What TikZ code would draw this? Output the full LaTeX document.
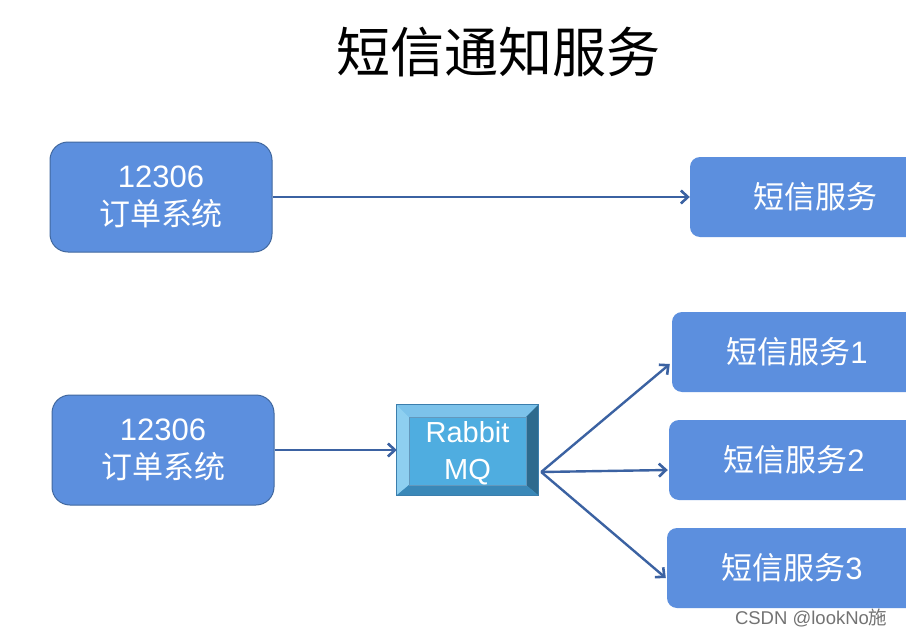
\documentclass[tikz,border=0pt]{standalone}
\usepackage{fontspec}
\setmainfont{Liberation Sans}
\newfontfamily\cjk{Noto Sans CJK SC}
\usetikzlibrary{arrows.meta,calc}
\definecolor{boxfill}{HTML}{5C8FDE}
\definecolor{boxline}{HTML}{41689F}
\definecolor{arrowc}{HTML}{3B62A2}
\definecolor{mqface}{HTML}{4FADE0}
\definecolor{mqtop}{HTML}{7CC2EA}
\definecolor{mqleft}{HTML}{8ECFF0}
\definecolor{mqright}{HTML}{2D6A8E}
\definecolor{mqbottom}{HTML}{3A88B8}
\definecolor{mqline}{HTML}{3B7EAD}
\tikzset{
  srcbox/.style={draw=boxline, line width=1pt, fill=boxfill, rounded corners=18pt,
    minimum width=222pt, minimum height=110pt, inner sep=0pt, text=white, align=center,
    font=\fontsize{31}{38}\selectfont},
  svcbox/.style={fill=boxfill, rounded corners=10pt, minimum width=250pt, minimum height=80pt,
    inner sep=0pt, text=white, font=\fontsize{31}{38}\selectfont},
  link/.style={draw=arrowc, line width=2.4pt, -{Straight Barb[length=7pt,width=13pt,line width=2.6pt]}},
}
\begin{document}
\begin{tikzpicture}[x=1pt,y=-1pt]
\useasboundingbox (0,0) rectangle (906,637);
\clip (0,0) rectangle (906,637);
\fill[white] (0,0) rectangle (906,637);
% title
\node (title) at (498,52) {\cjk\fontsize{54}{60}\selectfont 短信通知服务};
% top row
\node[srcbox] (a1) at (161,197) {12306\\{\cjk 订单系统}};
\node[svcbox] (b1) at (815,197) {\cjk 短信服务};
\draw[link] (a1.east) -- (b1.west);
% bottom row
\node[srcbox] (a2) at (163,450) {12306\\{\cjk 订单系统}};
\node[minimum width=141pt, minimum height=90pt, inner sep=0pt] (mq) at (467.5,450) {};
% bevel
\fill[mqface] (mq.north west) rectangle (mq.south east);
\fill[mqtop] (mq.north west) -- (mq.north east) -- ($(mq.north east)+(-12,12)$) -- ($(mq.north west)+(12,12)$) -- cycle;
\fill[mqleft] (mq.north west) -- ($(mq.north west)+(12,12)$) -- ($(mq.south west)+(12,-10)$) -- (mq.south west) -- cycle;
\fill[mqright] (mq.north east) -- ($(mq.north east)+(-12,12)$) -- ($(mq.south east)+(-12,-10)$) -- (mq.south east) -- cycle;
\fill[mqbottom] (mq.south west) -- ($(mq.south west)+(12,-10)$) -- ($(mq.south east)+(-12,-10)$) -- (mq.south east) -- cycle;
\draw[mqline, line width=0.8pt] (mq.north west) rectangle (mq.south east);
\draw[mqline!80!white, line width=0.5pt] ($(mq.north west)+(12,12)$) rectangle ($(mq.south east)+(-12,-10)$);
\node[text=white, align=center, font=\fontsize{29}{37}\selectfont] (mqtext) at ($(mq.center)+(0,3)$) {Rabbit\\MQ};
\draw[link] (a2.east) -- (mq.west);
% services
\node[svcbox] (s1) at (797,352) {{\cjk 短信服务}1};
\node[svcbox] (s2) at (794,460) {{\cjk 短信服务}2};
\node[svcbox] (s3) at (792,568) {{\cjk 短信服务}3};
\coordinate (mqout) at ($(mq.east)+(3,22)$);
\draw[link] (mqout) -- ($(s1.west)+(-2,12)$);
\draw[link] (mqout) -- ($(s2.west)+(-1,10)$);
\draw[link] (mqout) -- ($(s3.west)+(-1,10)$);
% watermark
\node[text=black!55, anchor=east, font=\fontsize{18.5}{22}\selectfont] (wm) at (891,618) {CSDN @lookNo{\cjk 施}};
\end{tikzpicture}
\end{document}
